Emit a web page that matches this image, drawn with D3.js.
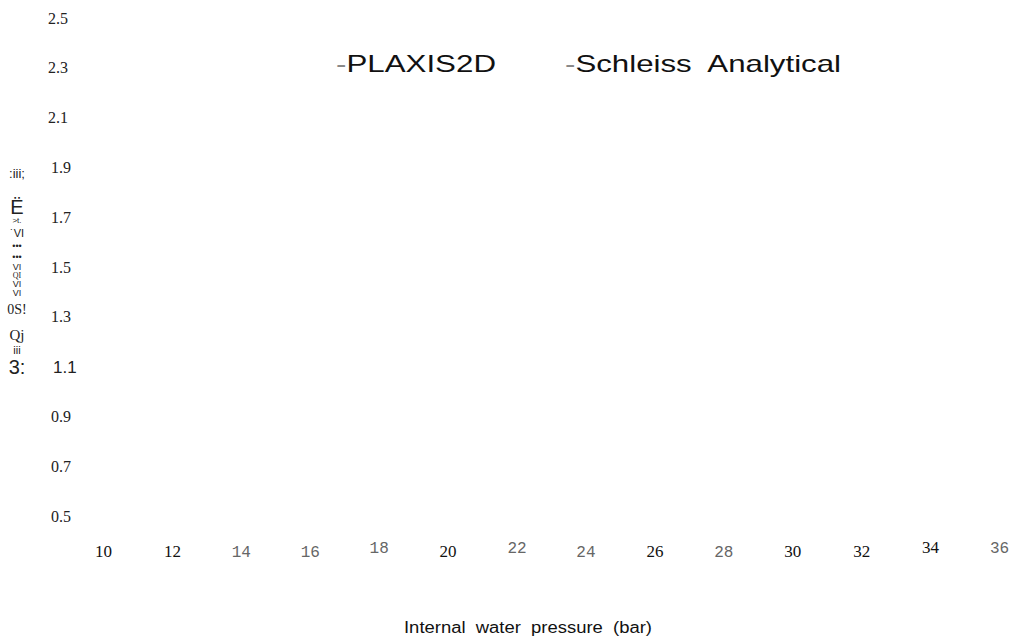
<!DOCTYPE html>
<html>
<head>
<meta charset="utf-8">
<script src="https://cdn.jsdelivr.net/npm/d3@7"></script>
<style>
  html, body { margin: 0; padding: 0; background: #fff; }
  svg { display: block; }
</style>
</head>
<body>
<svg id="chart" width="1015" height="644"></svg>
<script>
// Axis ticks (values and the typeface each label is set in)
const xTicks = [10, 12, 14, 16, 18, 20, 22, 24, 26, 28, 30, 32, 34, 36];
const xTickFonts = ["serif", "serif", "mono", "mono", "mono", "serif", "mono",
                    "mono", "serif", "mono", "serif", "serif", "serif", "mono"];
const yTicks = [2.5, 2.3, 2.1, 1.9, 1.7, 1.5, 1.3, 1.1, 0.9, 0.7, 0.5];
const yTickFonts = ["serif", "serif", "serif", "serif", "serif", "serif", "serif",
                    "sans", "serif", "serif", "serif"];

// Series shown in the legend; no plotted points for either
const seriesNames = ["PLAXIS2D", "Schleiss  Analytical"];
const plaxisValues = [];
const schleissValues = [];

const xTitle = "Internal  water  pressure  (bar)";
// Vertical axis title, set as stacked upright fragments
const yTitleParts = [":iii;", "Ë", ">t.", "˙VI", "•••", "•••", "VI", "QI", "VI", "VI", "0S!", "Qj", "iii", "3:"];

const svg = d3.select("#chart");

const x = d3.scaleLinear().domain([10, 36]).range([103, 999]);
const y = d3.scaleLinear().domain([0.5, 2.5]).range([516, 18]);

const fontFor = {
  serif: "'Liberation Serif', 'Times New Roman', serif",
  mono: "'Liberation Mono', 'DejaVu Sans Mono', monospace",
  sans: "'Liberation Sans', Arial, sans-serif"
};

// x axis (labels only, no domain or tick lines)
const xAxis = d3.axisBottom(x).tickValues(xTicks).tickSize(0).tickPadding(0).tickFormat(d3.format("d"));
const gx = svg.append("g").attr("transform", "translate(0,557)").call(xAxis);
gx.select(".domain").remove();
gx.selectAll(".tick text")
  .attr("dy", 0)
  .attr("font-family", (d, i) => fontFor[xTickFonts[i]])
  .attr("font-size", (d, i) => xTickFonts[i] === "mono" ? 16 : 17)
  .attr("fill", (d, i) => xTickFonts[i] === "mono" ? "#666" : "#111")
  .attr("y", (d, i) => ([18, 22, 34, 36].includes(d) ? -4 : 0));

// y axis (labels only, left aligned)
const yAxis = d3.axisLeft(y).tickValues(yTicks).tickSize(0).tickPadding(0).tickFormat(d3.format(".1f"));
const gy = svg.append("g").attr("transform", "translate(48,0)").call(yAxis);
gy.select(".domain").remove();
gy.selectAll(".tick text")
  .attr("text-anchor", "start")
  .attr("x", (d, i) => yTickFonts[i] === "sans" ? 5 : (d > 2 ? 0 : 3))
  .attr("font-family", (d, i) => fontFor[yTickFonts[i]])
  .attr("font-size", (d, i) => yTickFonts[i] === "sans" ? 17 : 16)
  .attr("fill", "#222");

// Series lines (empty data)
const line = d3.line().x(d => x(d[0])).y(d => y(d[1]));
svg.append("path").datum(plaxisValues).attr("fill", "none").attr("stroke", "#1f4e9a").attr("d", line);
svg.append("path").datum(schleissValues).attr("fill", "none").attr("stroke", "#c0392b").attr("d", line);

// Legend
const legendX = [336, 565];
const legendW = [160, 276];
const legend = svg.append("g");
seriesNames.forEach((name, i) => {
  const t = legend.append("text")
    .attr("x", legendX[i]).attr("y", 72)
    .attr("font-family", fontFor.sans)
    .attr("font-size", 24)
    .attr("fill", "#111")
    .attr("textLength", legendW[i])
    .attr("lengthAdjust", "spacingAndGlyphs")
    .style("white-space", "pre");
  t.append("tspan").attr("fill", "#888").text("-");
  t.append("tspan").text(name);
});

// x axis title
svg.append("text")
  .attr("x", 404).attr("y", 633)
  .attr("font-family", fontFor.sans)
  .attr("font-size", 16)
  .attr("fill", "#111")
  .attr("textLength", 248)
  .attr("lengthAdjust", "spacingAndGlyphs")
  .style("white-space", "pre")
  .text(xTitle);

// y axis title fragments
const yTitleY = [178, 214, 223, 237, 249, 260, 270, 278, 287, 296, 314, 340, 354, 374];
const yTitleSize = [13, 20, 8, 11, 9, 9, 9, 8, 9, 9, 14, 15, 11, 20];
const yTitleFont = ["sans", "sans", "sans", "sans", "sans", "sans", "sans", "serif", "sans", "sans", "serif", "serif", "sans", "sans"];
svg.append("g").selectAll("text").data(yTitleParts).join("text")
  .attr("x", 17)
  .attr("y", (d, i) => yTitleY[i])
  .attr("text-anchor", "middle")
  .attr("font-family", (d, i) => fontFor[yTitleFont[i]])
  .attr("font-size", (d, i) => yTitleSize[i])
  .attr("fill", "#222")
  .text(d => d);
</script>
</body>
</html>
